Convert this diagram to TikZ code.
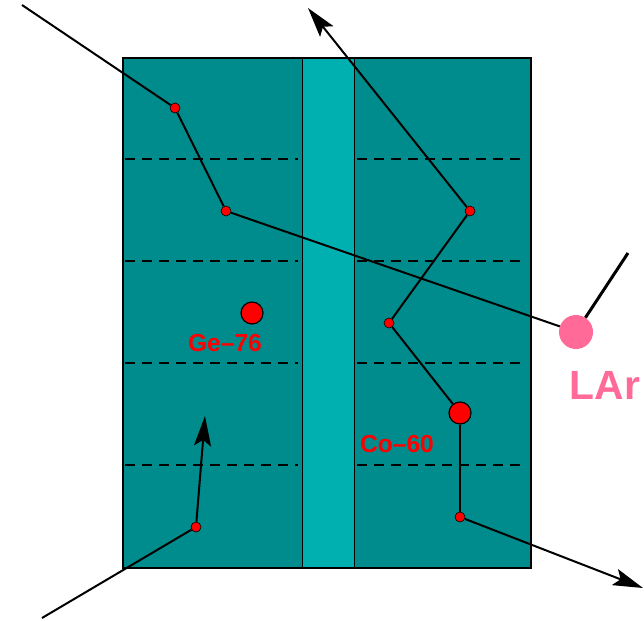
\documentclass[tikz,border=0pt]{standalone}
\usepackage{fontspec}
\setsansfont{Liberation Sans}
\usetikzlibrary{arrows.meta}
\definecolor{cteal}{HTML}{008C8C}
\definecolor{cstrip}{HTML}{00B0B0}
\definecolor{cred}{HTML}{FF0000}
\definecolor{cpink}{HTML}{FF6A98}
\tikzset{
  hit/.style={circle, fill=cred, draw=black, line width=0.3mm, inner sep=0pt,
              minimum size=5mm},
  src/.style={circle, fill=cred, draw=black, line width=0.6mm, inner sep=0pt,
              minimum size=11mm},
  track/.style={line width=1mm},
  trackout/.style={track, -{Stealth[length=15mm, width=8.5mm, inset=3mm]}},
  lbl/.style={font=\sffamily\bfseries\fontsize{35}{40}\selectfont, text=cred},
  seg/.style={dash pattern=on 5mm off 3.5mm, line width=0.8mm},
}
\begin{document}
\begin{tikzpicture}[x=0.5mm, y=-0.5mm]
  \useasboundingbox (0,0) rectangle (644,621);
  % crystal with the central column
  \fill[cteal] (123,58) rectangle (531,568);
  \fill[cstrip] (302,58) rectangle (354,568);
  \draw[line width=0.5mm] (302,58) -- (302,568) (354,58) -- (354,568);
  \foreach \y in {159,261,363,465} {
    \draw[seg] (125,\y) -- (298,\y);
    \draw[seg] (357,\y) -- (522,\y);
  }
  \draw[line width=1.2mm] (123,58) rectangle (531,568);

  % sources
  \node[src] (ge) at (252,313) {};
  \node[lbl] (gelbl) at (225,343) {Ge--76};
  \node[src] (co) at (460,413) {};
  \node[lbl] (colbl) at (397,444) {Co--60};

  % track through to the argon
  \coordinate (ain) at (22,5);
  \node[hit] (a1) at (175,108) {};
  \node[hit] (a2) at (226,211) {};
  \node[circle, fill=cpink, inner sep=0pt, minimum size=17mm] (lar) at (576,332) {};
  \coordinate (lout) at (628,253);
  \node[font=\sffamily\bfseries\fontsize{58}{64}\selectfont, text=cpink] (larlbl) at (605,385) {LAr};

  % tracks from Co-60
  \node[hit] (b1) at (389,323) {};
  \node[hit] (b2) at (470,211) {};
  \coordinate (bout) at (308,8);
  \node[hit] (b3) at (460,517) {};
  \coordinate (bend) at (643,588);

  % track from below
  \coordinate (cin) at (42,618);
  \node[hit] (c1) at (196,527) {};
  \coordinate (cend) at (205,416);

  \draw[track] (ain) -- (a1) -- (a2) -- (lar);
  \draw[line width=1.5mm] (lar) -- (lout);
  \draw[track] (co) -- (b1) -- (b2);
  \draw[trackout] (b2) -- (bout);
  \draw[track] (co) -- (b3);
  \draw[trackout] (b3) -- (bend);
  \draw[track] (cin) -- (c1);
  \draw[trackout] (c1) -- (cend);
\end{tikzpicture}
\end{document}
